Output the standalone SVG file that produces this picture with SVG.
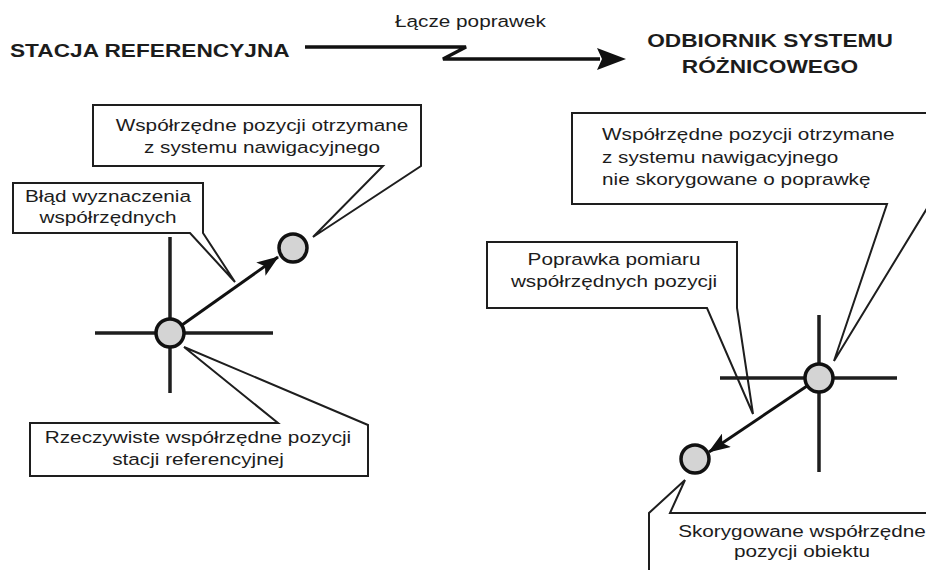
<svg xmlns="http://www.w3.org/2000/svg" width="926" height="570" viewBox="0 0 926 570">
<style>
.t{font-family:"Liberation Sans",Arial,sans-serif;font-size:17px;fill:#1c1c1c}
.b{font-family:"Liberation Sans",Arial,sans-serif;font-size:18px;font-weight:bold;fill:#1c1c1c}
.m{text-anchor:middle}
.box{fill:#fff;stroke:#1e1e1e;stroke-width:2;stroke-linejoin:miter}
.cross{stroke:#1e1e1e;stroke-width:3.5;fill:none}
.pt{fill:#d4d4d4;stroke:#111;stroke-width:3.5}
.arr{stroke:#111;stroke-width:3;fill:none}
</style>
<defs>
<marker id="ah" markerUnits="userSpaceOnUse" markerWidth="22" markerHeight="16" viewBox="0 0 22 16" refX="21" refY="8" orient="auto">
<path d="M0,0 L22,8 L0,16 L5,8 z" fill="#111"/>
</marker>
</defs>
<rect width="926" height="570" fill="#fff"/>

<g id="title-reference">
<text class="b" transform="translate(10 57) scale(1.26 1)">STACJA REFERENCYJNA</text>
</g>
<g id="title-receiver">
<text class="b m" transform="translate(770 47) scale(1.26 1)">ODBIORNIK SYSTEMU</text>
<text class="b m" transform="translate(770 73) scale(1.26 1)">RÓŻNICOWEGO</text>
</g>
<g id="link-label">
<text class="t" transform="translate(395 27) scale(1.22 1)">Łącze poprawek</text>
</g>

<g id="callout-measured-left">
<path class="box" d="M93,105 L421,105 L421,166 L313,237 L383,166 L93,166 Z"/>
<text class="t m" transform="translate(262 131) scale(1.22 1)">Współrzędne pozycji otrzymane</text>
<text class="t m" transform="translate(262 153) scale(1.22 1)">z systemu nawigacyjnego</text>
</g>
<g id="callout-error">
<path class="box" d="M13,183 L203,183 L203,233 L235,282 L190,233 L13,233 Z"/>
<text class="t m" transform="translate(108 202) scale(1.22 1)">Błąd wyznaczenia</text>
<text class="t m" transform="translate(108 223) scale(1.22 1)">współrzędnych</text>
</g>
<g id="callout-true">
<path class="box" d="M30,423 L278,423 L184,347 L368,425 L368,476 L30,476 Z"/>
<text class="t m" transform="translate(198 443) scale(1.22 1)">Rzeczywiste współrzędne pozycji</text>
<text class="t m" transform="translate(198 465) scale(1.22 1)">stacji referencyjnej</text>
</g>
<g id="callout-measured-right">
<path class="box" d="M572,113 L940,113 L940,187 L834,361 L887,204 L572,204 Z"/>
<text class="t" transform="translate(602 140) scale(1.22 1)">Współrzędne pozycji otrzymane</text>
<text class="t" transform="translate(602 163) scale(1.22 1)">z systemu nawigacyjnego</text>
<text class="t" transform="translate(602 185) scale(1.22 1)">nie skorygowane o poprawkę</text>
</g>
<g id="callout-correction">
<path class="box" d="M487,242 L737,242 L737,308 L753,414 L707,308 L487,308 Z"/>
<text class="t m" transform="translate(614 265) scale(1.22 1)">Poprawka pomiaru</text>
<text class="t m" transform="translate(614 287) scale(1.22 1)">współrzędnych pozycji</text>
</g>
<g id="callout-corrected">
<path class="box" d="M649,580 L649,513 L685,480 L670,513 L940,513 L940,580 Z"/>
<text class="t m" transform="translate(802 537) scale(1.22 1)">Skorygowane współrzędne</text>
<text class="t m" transform="translate(802 557) scale(1.22 1)">pozycji obiektu</text>
</g>

<g id="reference-station">
<line class="cross" x1="95" y1="333" x2="273" y2="333"/>
<line class="cross" x1="170" y1="237" x2="170" y2="393"/>
<circle class="pt" cx="170" cy="333" r="14"/>
</g>
<g id="measured-point-left">
<circle class="pt" cx="293" cy="248" r="14"/>
</g>
<g id="receiver-measured">
<line class="cross" x1="720" y1="378" x2="897" y2="378"/>
<line class="cross" x1="819" y1="315" x2="819" y2="472"/>
<circle class="pt" cx="819" cy="378" r="14"/>
</g>
<g id="corrected-point">
<circle class="pt" cx="695" cy="459" r="14"/>
</g>

<g id="connectors">
<polyline points="305,47 466,47 443,59 600,59" fill="none" stroke="#111" stroke-width="3.5" stroke-linejoin="miter"/>
<polygon points="597,48 626,59 597,70 602,59" fill="#111"/>
<line class="arr" x1="182" y1="325" x2="278" y2="257" marker-end="url(#ah)"/>
<line class="arr" x1="807" y1="386" x2="709" y2="452" marker-end="url(#ah)"/>
</g>
</svg>
